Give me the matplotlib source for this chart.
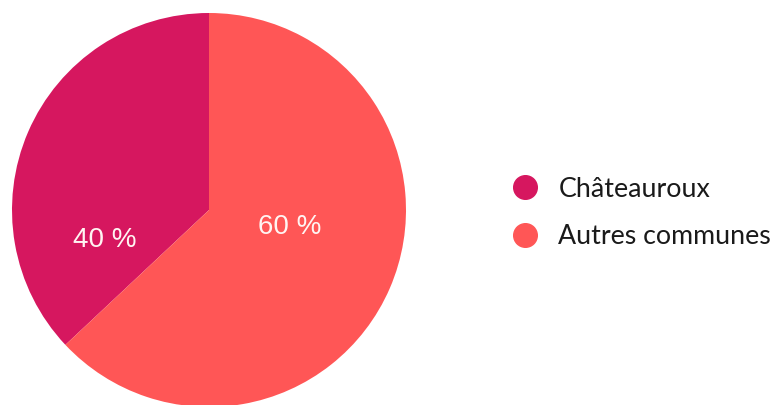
import matplotlib
matplotlib.use("Agg")
import matplotlib.pyplot as plt
from matplotlib.lines import Line2D

categories = ["Châteauroux", "Autres communes"]
values = [37, 63]
labels = ["40 %", "60 %"]
colors = ["#D6175F", "#FF5656"]
label_pos = [(-0.53, -0.15), (0.41, -0.086)]

fig = plt.figure(figsize=(7.76, 4.05), dpi=100)
ax = fig.add_axes([12/776, -2/405, 394/776, 394/405])
ax.pie(values, colors=colors, startangle=90, counterclock=True,
       radius=1, wedgeprops=dict(linewidth=0))
ax.set_xlim(-1, 1)
ax.set_ylim(-1, 1)
ax.set_aspect("equal")
ax.axis("off")
for (x, y), t in zip(label_pos, labels):
    ax.text(x, y, t, color="#FFF4F2", fontsize=20, ha="center", va="center",
            family="Liberation Sans")

handles = [Line2D([0], [0], marker="o", linestyle="none", markersize=17,
                  markerfacecolor=c, markeredgecolor=c) for c in colors]
fig.legend(handles, categories, loc="center left",
           bbox_to_anchor=(491/776, (405 - 213)/405), frameon=False,
           prop=dict(family="Lato", size=19.3), handletextpad=0.85,
           labelspacing=0.85, handlelength=0.76, labelcolor="#1a1a1a")

fig.savefig("out.png", dpi=100)
